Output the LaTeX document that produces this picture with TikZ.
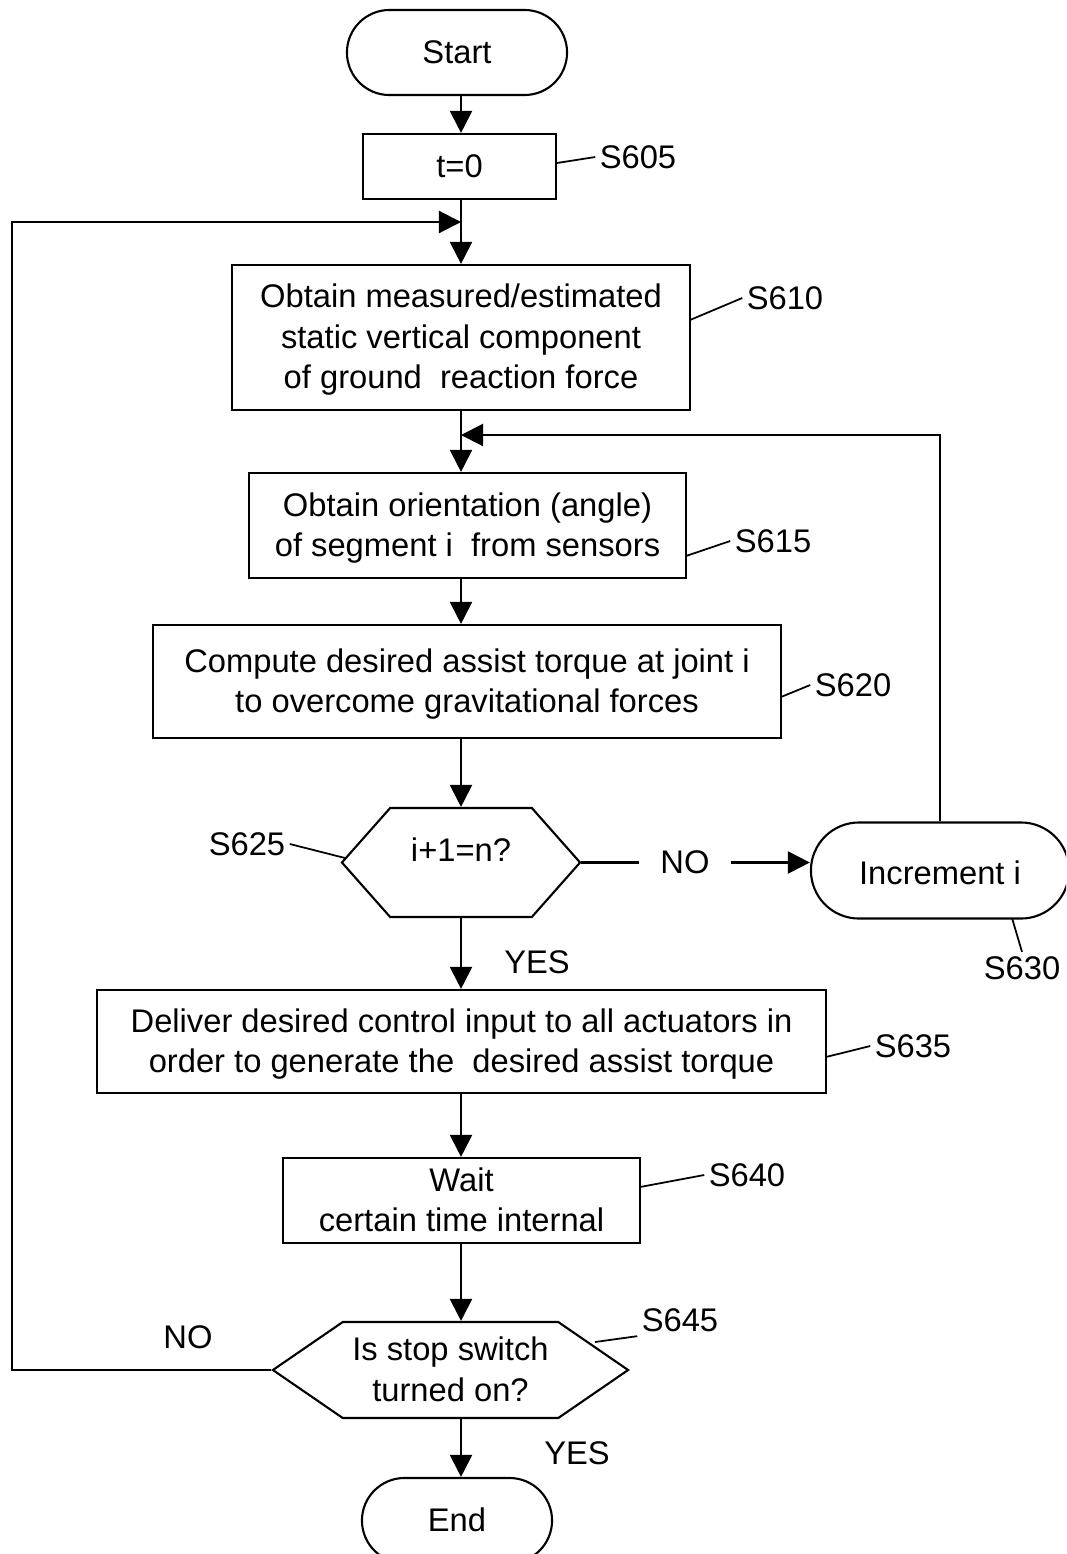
\documentclass[tikz,border=0pt]{standalone}
\usepackage{fontspec}
\setmainfont{Liberation Sans}
\usetikzlibrary{shapes.misc,shapes.symbols,arrows.meta}

% struts so that the text sits like in the drawing
\newcommand{\sthi}{\rule{0pt}{8.7pt}}
\newcommand{\stlo}{\rule[-2.5pt]{0pt}{2.5pt}}

\begin{document}
\begin{tikzpicture}[x=0.01cm, y=-0.01cm, line width=0.6pt,
    every node/.style={font=\fontsize{9.3}{11.5}\selectfont},
    procbox/.style={draw, rectangle, align=center, inner sep=0pt},
    termbox/.style={draw, rounded rectangle, align=center, inner sep=0pt},
    testbox/.style={draw, signal, signal to=east and west, align=center, inner sep=0pt},
    steplbl/.style={inner sep=1pt},
    lead/.style={line width=0.5pt},
    arr/.style={-{Triangle[length=2.2mm,width=2.2mm]}}]
    \useasboundingbox (0,0) rectangle (1066,1554);
    \clip (0,0) rectangle (1066,1554);
    \begin{scope}
      \node[termbox, minimum width=2.2cm, minimum height=0.85cm] (start) at (457,52.5) {\sthi Start\stlo};
      \node[procbox, minimum width=1.93cm, minimum height=0.65cm] (t0) at (459.5,166.5) {\sthi t=0\stlo};
      \node[procbox, minimum width=4.58cm, minimum height=1.45cm] (s610) at (461,337.5) {\sthi Obtain measured/estimated\\ static vertical component\\ of ground\ \ reaction force\stlo};
      \node[procbox, minimum width=4.37cm, minimum height=1.05cm] (s615) at (467.5,525.5) {\sthi Obtain orientation (angle)\\ of segment i\ \ from sensors\stlo};
      \node[procbox, minimum width=6.28cm, minimum height=1.13cm] (s620) at (467,681.5) {\sthi Compute desired assist torque at joint i\\ to overcome gravitational forces\stlo};
      \node[testbox, minimum width=2.38cm, minimum height=1.09cm, signal pointer angle=97] (s625) at (461,862.5) {\sthi i+1=n?\rule[-9.3pt]{0pt}{9.3pt}};
      \node[termbox, minimum width=2.58cm, minimum height=0.96cm] (inc) at (940,870.5) {\sthi Increment i\rule[-1pt]{0pt}{1pt}};
      \node[procbox, minimum width=7.29cm, minimum height=1.03cm] (s635) at (461.5,1041.5) {\sthi Deliver desired control input to all actuators in\\ order to generate the\ \ desired assist torque\stlo};
      \node[procbox, minimum width=3.57cm, minimum height=0.85cm] (s640) at (461.5,1200.5) {\sthi Wait\\ certain time internal\stlo};
      \node[testbox, minimum width=3.55cm, minimum height=0.96cm, signal pointer angle=69] (s645) at (450.5,1370) {\sthi Is stop switch\\ turned on?\stlo};
      \node[termbox, minimum width=1.9cm, minimum height=0.85cm] (end) at (457,1520.5) {\sthi End\stlo};

      % step numbers
      \node[steplbl] (l605) at (638,157) {S605};
      \node[steplbl] (l610) at (785,298) {S610};
      \node[steplbl] (l615) at (773,541) {S615};
      \node[steplbl] (l620) at (853,685) {S620};
      \node[steplbl] (l625) at (247,844) {S625};
      \node[steplbl] (l630) at (1022,968) {S630};
      \node[steplbl] (l635) at (913,1046) {S635};
      \node[steplbl] (l640) at (747,1175) {S640};
      \node[steplbl] (l645) at (680,1320) {S645};
      \coordinate (c605) at (557,163);
      \coordinate (c610) at (690,320);
      \coordinate (c615) at (686,556);
      \coordinate (c620) at (781,697);
      \coordinate (c625) at (345,858);
      \coordinate (c630) at (1012,918);
      \coordinate (c635) at (826,1057);
      \coordinate (c640) at (640,1187);
      \coordinate (c645) at (595,1342);
      \draw[lead] (c605) -- (l605.west);
      \draw[lead] (c610) -- (l610.west);
      \draw[lead] (c615) -- (l615.west);
      \draw[lead] (c620) -- (l620.west);
      \draw[lead] (l625.east) -- (c625);
      \draw[lead] (c630) -- (l630.north);
      \draw[lead] (c635) -- (l635.west);
      \draw[lead] (c640) -- (l640.west);
      \draw[lead] (c645) -- (l645.south west);

      % branch labels
      \node[inner xsep=0.2cm] (no1) at (685,862.5) {NO};
      \node (yes1) at (537,962) {YES};
      \node (no2) at (188,1337) {NO};
      \node (yes2) at (577,1453) {YES};

      % flow
      \coordinate (spine) at (461,0);
      \coordinate (j1) at (461,222);
      \coordinate (j2) at (461,435);
      \draw[arr] (spine |- start.south) -- (spine |- t0.north);
      \draw[arr] (spine |- t0.south) -- (spine |- s610.north);
      \draw[arr] (spine |- s610.south) -- (spine |- s615.north);
      \draw[arr] (spine |- s615.south) -- (spine |- s620.north);
      \draw[arr] (spine |- s620.south) -- (spine |- s625.north);
      \draw (s625.east) -- (s625.east -| no1.west);
      \draw[arr] (s625.east -| no1.east) -- (s625.east -| inc.west);
      \draw[arr] (inc.north) |- (j2);
      \draw[arr] (spine |- s625.south) -- (spine |- s635.north);
      \draw[arr] (spine |- s635.south) -- (spine |- s640.north);
      \draw[arr] (spine |- s640.south) -- (spine |- s645.north);
      \draw[arr] (s645.west) -- (s645.west -| 12,0) |- (j1);
      \draw[arr] (spine |- s645.south) -- (spine |- end.north);
    \end{scope}
  \end{tikzpicture}
\end{document}
